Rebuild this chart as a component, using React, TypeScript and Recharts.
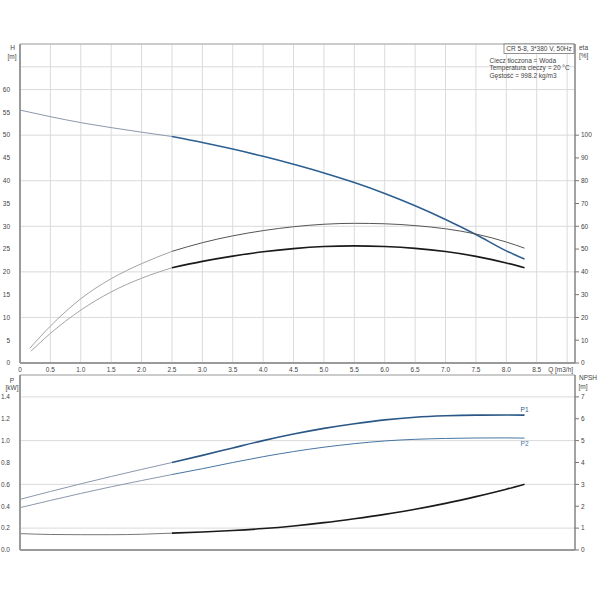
import React from "react";
import { LineChart, Line, XAxis, YAxis, CartesianGrid, ReferenceLine } from "recharts";

// flow points (m3/h)
const flowQ = [0, 0.5, 1, 1.5, 2, 2.5, 3, 3.5, 4, 4.5, 5, 5.5, 6, 6.5, 7, 7.5, 8, 8.3];
const headH = [55.5, 54.05, 52.75, 51.65, 50.65, 49.7, 48.4, 46.95, 45.35, 43.6, 41.7, 39.6, 37.2, 34.5, 31.5, 28.2, 24.6, 22.8];

const etaPumpQ = [0.16, 0.5, 1, 1.5, 2, 2.5, 3, 3.5, 4, 4.5, 5, 5.5, 6, 6.5, 7, 7.5, 8, 8.3];
const etaPump = [6.4, 16.2, 28.2, 37.0, 43.6, 49.0, 52.8, 55.8, 58.1, 59.8, 60.9, 61.3, 61.1, 60.3, 58.9, 56.6, 53.1, 50.4];
const etaTotalQ = [0.18, 0.5, 1, 1.5, 2, 2.5, 3, 3.5, 4, 4.5, 5, 5.5, 6, 6.5, 7, 7.5, 8, 8.3];
const etaTotal = [5.2, 13.0, 23.2, 31.2, 37.2, 41.8, 44.6, 46.9, 48.8, 50.2, 51.1, 51.4, 51.1, 50.3, 48.9, 46.8, 43.9, 41.8];

const powerP1 = [0.463, 0.535, 0.605, 0.672, 0.737, 0.8, 0.865, 0.933, 1.0, 1.06, 1.112, 1.155, 1.19, 1.214, 1.227, 1.233, 1.234, 1.233];
const powerP2 = [0.387, 0.453, 0.517, 0.578, 0.635, 0.69, 0.743, 0.8, 0.853, 0.9, 0.94, 0.972, 0.997, 1.012, 1.02, 1.024, 1.025, 1.023];
const npsh = [0.75, 0.71, 0.7, 0.7, 0.72, 0.77, 0.82, 0.89, 0.98, 1.1, 1.25, 1.43, 1.63, 1.86, 2.13, 2.44, 2.78, 3.01];

const qTicks = [0, 0.5, 1, 1.5, 2, 2.5, 3, 3.5, 4, 4.5, 5, 5.5, 6, 6.5, 7, 7.5, 8, 8.5, 9];
const hTicks = [0, 5, 10, 15, 20, 25, 30, 35, 40, 45, 50, 55, 60, 65, 70];
const etaTicks = [0, 10, 20, 30, 40, 50, 60, 70, 80, 90, 100];
const pTicks = [0, 0.2, 0.4, 0.6, 0.8, 1.0, 1.2, 1.4, 1.6];
const npshTicks = [0, 1, 2, 3, 4, 5, 6, 7];

const infoLines = ["Ciecz tłoczona = Woda", "Temperatura cieczy = 20 °C", "Gęstość = 998.2 kg/m3"];
const pumpTitle = "CR 5-8, 3*380 V, 50Hz";

const DUTY_START = 2.5;
const FONT = "'Liberation Sans', Arial, sans-serif";
const FS = 6.5;
const GRID = "#dadada";
const AXIS = "#9a9a9a";

type Pt = { q: number; v: number };
const zip = (q: number[], v: number[]): Pt[] => q.map((x, i) => ({ q: x, v: v[i] }));
const before = (pts: Pt[]) => pts.filter((p) => p.q <= DUTY_START);
const after = (pts: Pt[]) => pts.filter((p) => p.q >= DUTY_START);

const headPts = zip(flowQ, headH);
const etaPumpPts = zip(etaPumpQ, etaPump);
const etaTotalPts = zip(etaTotalQ, etaTotal);
const p1Pts = zip(flowQ, powerP1);
const p2Pts = zip(flowQ, powerP2);
const npshPts = zip(flowQ, npsh);

const tickStyle = { fontSize: FS, fill: "#444", fontFamily: FONT };

const QTick = (props: any) => {
  const { x, y, payload } = props;
  const v = payload.value as number;
  if (v === 9) {
    return (
      <text x={x + 6} y={y} dy="0.71em" textAnchor="end" style={tickStyle}>
        Q [m3/h]
      </text>
    );
  }
  return (
    <text x={x} y={y} dy="0.71em" textAnchor="middle" style={tickStyle}>
      {v === 0 ? "0" : v.toFixed(1)}
    </text>
  );
};

const endLabel = (text: string, count: number, dy: number, color: string) => (props: any) => {
  const { x, y, index } = props;
  if (index !== count - 1) return null;
  return (
    <text x={x} y={y + dy} textAnchor="middle" style={{ fontSize: FS, fill: color, fontFamily: FONT }}>
      {text}
    </text>
  );
};

const Segment = ({ pts, yAxisId, color, width, label }: any) => (
  <Line
    data={pts}
    dataKey="v"
    xAxisId="q"
    yAxisId={yAxisId}
    type="monotone"
    stroke={color}
    strokeWidth={width}
    dot={false}
    activeDot={false}
    isAnimationActive={false}
    label={label}
  />
);

export default function App() {
  const p1After = after(p1Pts);
  const p2After = after(p2Pts);
  return (
    <div style={{ position: "absolute", left: 0, top: 0, width: 600, height: 600, background: "#fff", fontFamily: FONT }}>
      <div style={{ position: "absolute", left: 0, top: 0 }}>
        <LineChart width={600} height={380} margin={{ top: 44, right: 0, bottom: 0, left: 0 }}>
          <CartesianGrid xAxisId="q" yAxisId="h" stroke={GRID} strokeWidth={1} />
          <XAxis
            xAxisId="q"
            type="number"
            dataKey="q"
            domain={[0, 9.13]}
            ticks={qTicks}
            allowDataOverflow
            height={17}
            tickLine={false}
            tickSize={2}
            tickMargin={2}
            tick={<QTick />}
            axisLine={{ stroke: AXIS, strokeWidth: 2 }}
          />
          <YAxis
            yAxisId="h"
            type="number"
            domain={[0, 70]}
            ticks={hTicks}
            width={20}
            tickLine={false}
            tickMargin={4}
            tick={tickStyle}
            tickFormatter={(v: number) => (v > 60 ? "" : String(v))}
            axisLine={{ stroke: AXIS, strokeWidth: 2 }}
          />
          <YAxis
            yAxisId="eta"
            orientation="right"
            type="number"
            domain={[0, 140]}
            ticks={etaTicks}
            width={25}
            tickSize={4}
            tickMargin={2}
            tick={tickStyle}
            tickLine={{ stroke: "#777" }}
            axisLine={{ stroke: "#8a8a8a", strokeWidth: 1.5 }}
          />
          <ReferenceLine xAxisId="q" yAxisId="h" y={70} stroke="#aaa" strokeWidth={1} />
          {Segment({ pts: before(headPts), yAxisId: "h", color: "#8b98ab", width: 1 })}
          {Segment({ pts: after(headPts), yAxisId: "h", color: "#2d5f91", width: 1.6 })}
          {Segment({ pts: before(etaPumpPts), yAxisId: "eta", color: "#a3a3a3", width: 1 })}
          {Segment({ pts: after(etaPumpPts), yAxisId: "eta", color: "#555", width: 1 })}
          {Segment({ pts: before(etaTotalPts), yAxisId: "eta", color: "#a3a3a3", width: 1 })}
          {Segment({ pts: after(etaTotalPts), yAxisId: "eta", color: "#1a1a1a", width: 1.6 })}
        </LineChart>
      </div>

      <div style={{ position: "absolute", left: 0, top: 365 }}>
        <LineChart width={600} height={195} margin={{ top: 10, right: 0, bottom: 0, left: 0 }}>
          <CartesianGrid xAxisId="q" yAxisId="p" stroke={GRID} strokeWidth={1} />
          <XAxis
            xAxisId="q"
            type="number"
            dataKey="q"
            domain={[0, 9.13]}
            ticks={qTicks}
            allowDataOverflow
            height={10}
            tick={false}
            tickLine={false}
            axisLine={{ stroke: AXIS, strokeWidth: 2 }}
          />
          <YAxis
            yAxisId="p"
            type="number"
            domain={[0, 1.6]}
            ticks={pTicks}
            width={20}
            tickLine={false}
            tickMargin={4}
            tick={tickStyle}
            tickFormatter={(v: number) => (v > 1.5 ? "" : v.toFixed(1))}
            axisLine={{ stroke: AXIS, strokeWidth: 2 }}
          />
          <YAxis
            yAxisId="npsh"
            orientation="right"
            type="number"
            domain={[0, 8]}
            ticks={npshTicks}
            width={25}
            tickSize={4}
            tickMargin={2}
            tick={tickStyle}
            tickLine={{ stroke: "#777" }}
            axisLine={{ stroke: "#8a8a8a", strokeWidth: 1.5 }}
          />
          <ReferenceLine xAxisId="q" yAxisId="p" y={1.6} stroke="#aaa" strokeWidth={1} />
          {Segment({ pts: before(p1Pts), yAxisId: "p", color: "#8b98ab", width: 1 })}
          {Segment({
            pts: p1After,
            yAxisId: "p",
            color: "#2a5785",
            width: 1.6,
            label: endLabel("P1", p1After.length, -3, "#2a5785"),
          })}
          {Segment({ pts: before(p2Pts), yAxisId: "p", color: "#8b98ab", width: 1 })}
          {Segment({
            pts: p2After,
            yAxisId: "p",
            color: "#4775a3",
            width: 1,
            label: endLabel("P2", p2After.length, 8, "#4775a3"),
          })}
          {Segment({ pts: before(npshPts), yAxisId: "npsh", color: "#777", width: 1 })}
          {Segment({ pts: after(npshPts), yAxisId: "npsh", color: "#1a1a1a", width: 1.6 })}
        </LineChart>
      </div>

      <svg width={600} height={600} style={{ position: "absolute", left: 0, top: 0, pointerEvents: "none" }}>
        <g style={{ fontSize: FS, fill: "#444", fontFamily: FONT }}>
          <text x={12.5} y={50} textAnchor="middle">H</text>
          <text x={12} y={59} textAnchor="middle">[m]</text>
          <text x={579} y={50}>eta</text>
          <text x={579} y={58}>[%]</text>
          <text x={12} y={383} textAnchor="middle">P</text>
          <text x={12} y={390} textAnchor="middle">[kW]</text>
          <text x={579} y={380}>NPSH</text>
          <text x={583} y={389} textAnchor="middle">[m]</text>
        </g>
        <rect x={504} y={44} width={70} height={9.5} fill="#fff" stroke="#777" strokeWidth={0.8} />
        <text x={539} y={51.3} textAnchor="middle" style={{ fontSize: FS, fill: "#444", fontFamily: FONT }}>
          {pumpTitle}
        </text>
        {infoLines.map((line, i) => (
          <text key={line} x={489.5} y={63.3 + i * 7.1} style={{ fontSize: FS, fill: "#444", fontFamily: FONT }}>
            {line}
          </text>
        ))}
      </svg>
    </div>
  );
}
